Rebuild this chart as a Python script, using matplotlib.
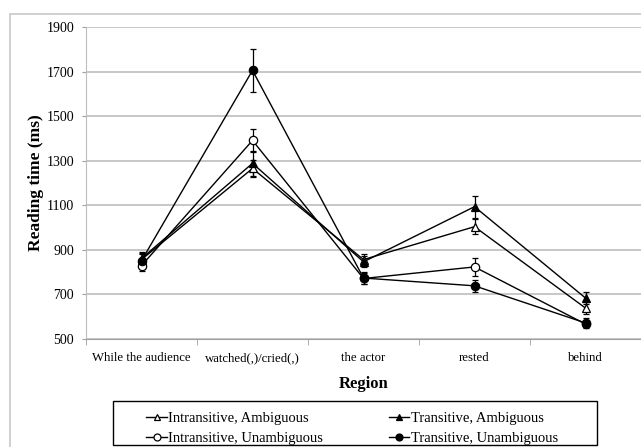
import matplotlib
matplotlib.use('Agg')
import matplotlib.pyplot as plt
from matplotlib.patches import Rectangle
from matplotlib.lines import Line2D

plt.rcParams['font.family'] = ['Liberation Serif', 'DejaVu Serif']

regions = ['While the audience', 'watched(,)/cried(,)', 'the actor', 'rested', 'behind']

intrans_amb = [855, 1265, 855, 1003, 637]
intrans_amb_err = [30, 40, 25, 35, 25]
trans_amb = [860, 1288, 845, 1093, 682]
trans_amb_err = [30, 55, 25, 50, 27]
intrans_unamb = [828, 1391, 770, 822, 565]
intrans_unamb_err = [25, 50, 25, 42, 20]
trans_unamb = [850, 1706, 772, 737, 570]
trans_unamb_err = [30, 95, 25, 26, 20]

W, H = 641, 447
fig = plt.figure(figsize=(W / 100, H / 100), dpi=100)
ax = fig.add_axes([86 / W, 1 - 338.5 / H, 1 - 86 / W, (338.5 - 27.3) / H])

# grey chart border like the spreadsheet export
fig.patches.append(Rectangle((10 / W, -0.1), 1.0, 1.1 - 14 / H, transform=fig.transFigure,
                             fill=False, edgecolor='#c8c8c8', linewidth=1.2))
# legend box
fig.patches.append(Rectangle((113 / W, 1 - 445 / H), (597 - 113) / W, 44 / H, transform=fig.transFigure,
                             fill=False, edgecolor='black', linewidth=1.0))

x = list(range(len(regions)))
series = [
    ('Intransitive, Ambiguous', intrans_amb, intrans_amb_err, '^', 'white'),
    ('Intransitive, Unambiguous', intrans_unamb, intrans_unamb_err, 'o', 'white'),
    ('Transitive, Ambiguous', trans_amb, trans_amb_err, '^', 'black'),
    ('Transitive, Unambiguous', trans_unamb, trans_unamb_err, 'o', 'black'),
]
handles = []
for name, vals, errs, mk, fc in series:
    ax.errorbar(x, vals, yerr=errs, color='black', linewidth=1, marker=mk, markersize=6,
                markerfacecolor=fc, markeredgecolor='black', markeredgewidth=0.9,
                ecolor='black', elinewidth=0.9, capsize=2.5, capthick=0.9, zorder=3)
    handles.append(Line2D([], [], color='black', linewidth=1, marker=mk, markersize=5,
                          markerfacecolor=fc, markeredgecolor='black', markeredgewidth=0.9))

ax.set_xlim(-0.5, len(regions) - 0.5)
ax.set_ylim(500, 1900)
ax.set_yticks(range(500, 1901, 200))
ax.set_xticks(x)
ax.set_xticklabels(regions)
ax.set_xticks([i - 0.5 for i in range(len(regions) + 1)], minor=True)
ax.tick_params(axis='x', which='major', length=0, labelsize=9.2, pad=10)
ax.tick_params(axis='x', which='minor', length=4, color='#a0a0a0', direction='out')
ax.tick_params(axis='y', length=3, color='#a0a0a0', labelsize=10, pad=5.5)
ax.grid(axis='y', color='#bdbdbd', linewidth=1.2)
ax.set_axisbelow(True)
for s in ['top', 'right']:
    ax.spines[s].set_visible(False)
ax.spines['left'].set_color('#bdbdbd')
ax.spines['bottom'].set_color('#a0a0a0')

ax.set_xlabel('Region', fontsize=12, fontweight='bold', labelpad=8)
ax.set_ylabel('Reading time (ms)', fontsize=12.5, fontweight='bold')
ax.yaxis.set_label_coords(-(86 - 44) / 555, 0.5)

leg = fig.legend(handles, [s[0] for s in series], loc='center', bbox_to_anchor=(352 / W, 1 - 428.5 / H),
                 ncol=2, fontsize=10.5, frameon=False,
                 handlelength=1.4, handletextpad=0.1, columnspacing=4.5, borderpad=0,
                 labelspacing=0.5, borderaxespad=0)

fig.savefig('out.png', dpi=100)
